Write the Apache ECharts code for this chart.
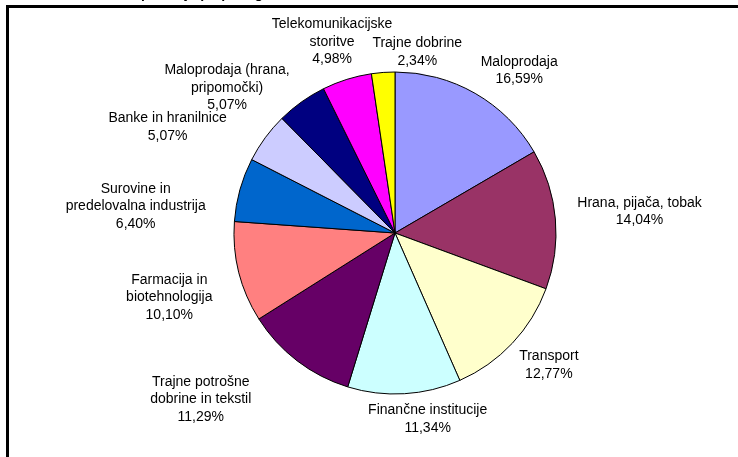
<!DOCTYPE html>
<html>
<head>
<meta charset="utf-8">
<script src="https://cdn.jsdelivr.net/npm/echarts@6/dist/echarts.min.js"></script>
<style>
  html, body { margin: 0; padding: 0; background: #fff; }
  #chart { width: 738px; height: 457px; }
</style>
</head>
<body>
<div id="chart"></div>
<script>
// sectors, clockwise from 12 o'clock
const sectors = [
  'Maloprodaja',
  'Hrana, pijača, tobak',
  'Transport',
  'Finančne institucije',
  'Trajne potrošne\ndobrine in tekstil',
  'Farmacija in\nbiotehnologija',
  'Surovine in\npredelovalna industrija',
  'Banke in hranilnice',
  'Maloprodaja (hrana,\npripomočki)',
  'Telekomunikacijske\nstoritve',
  'Trajne dobrine'
];
const shares = [16.59, 14.04, 12.77, 11.34, 11.29, 10.10, 6.40, 5.07, 5.07, 4.98, 2.34];
const sliceColors = ['#9999ff', '#993366', '#ffffcc', '#ccffff', '#660066', '#ff8080',
                     '#0066cc', '#ccccff', '#000080', '#ff00ff', '#ffff00'];
const titleText = 'Slika 4: Struktura portfelja po panogah';

(function () {
  let myChart = echarts.init(document.getElementById('chart'));

  const cx = 395, cy = 233, r = 161, gap = 22;
  const total = shares.reduce((a, b) => a + b, 0);
  // small per-label nudges, Excel moved some labels off the plain radial spot
  const labelShift = [[23, 14], [0, 0], [2, -11], [21, -14], [-63, -5], [-5, 9],
                      [-13, 42], [-56, 20], [-43, 30], [0, 10], [37, 19]];

  let option = {
    backgroundColor: '#fff',
    animation: false,
    textStyle: { fontFamily: 'Liberation Sans, Arial, sans-serif' },
    graphic: [
      {
        // title is cut off by the top edge of the picture
        type: 'text',
        left: 22,
        top: -13,
        style: { text: titleText, font: 'bold 14px "Liberation Sans", Arial', fill: '#000' }
      },
      {
        type: 'rect',
        shape: { x: 7.5, y: 6.5, width: 800, height: 500 },
        style: { fill: 'none', stroke: '#000', lineWidth: 3 }
      }
    ],
    series: [
      {
        type: 'pie',
        center: [cx, cy],
        radius: r,
        startAngle: 90,
        clockwise: true,
        avoidLabelOverlap: false,
        silent: true,
        color: sliceColors,
        itemStyle: { borderColor: '#000', borderWidth: 1 },
        label: {
          show: true,
          position: 'outside',
          fontSize: 14,
          lineHeight: 17.5,
          color: '#000',
          fontFamily: 'Liberation Sans, Arial, sans-serif',
          align: 'center',
          formatter: function (p) {
            return p.name + '\n' + p.value.toFixed(2).replace('.', ',') + '%';
          }
        },
        labelLine: { show: false },
        labelLayout: function (p) {
          const i = p.dataIndex;
          let before = 0;
          for (let k = 0; k < i; k++) before += shares[k];
          const ang = (before + shares[i] / 2) / total * 2 * Math.PI;
          const s = Math.sin(ang), c = Math.cos(ang);
          const hw = p.labelRect.width / 2, hh = p.labelRect.height / 2;
          const t = Math.min(Math.abs(s) > 1e-6 ? hw / Math.abs(s) : 1e9,
                             Math.abs(c) > 1e-6 ? hh / Math.abs(c) : 1e9);
          const d = r + gap + t;
          return {
            x: cx + d * s + labelShift[i][0],
            y: cy - d * c + labelShift[i][1],
            align: 'center',
            verticalAlign: 'middle'
          };
        },
        data: sectors.map((name, i) => ({ name: name, value: shares[i] }))
      }
    ]
  };

  myChart.setOption(option);
})();
</script>
</body>
</html>
